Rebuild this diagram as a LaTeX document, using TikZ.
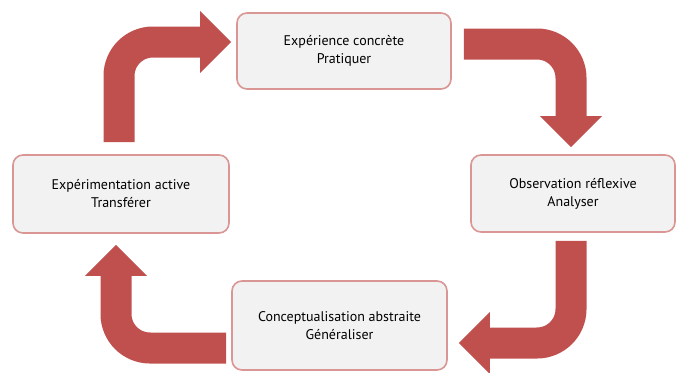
\documentclass[tikz,border=0pt]{standalone}
\usepackage{fontspec}
\setmainfont{PT Sans}
\usetikzlibrary{arrows.meta}
\definecolor{boxfill}{HTML}{F2F2F2}
\definecolor{boxline}{HTML}{D99694}
\definecolor{arrowred}{HTML}{C0504D}
\begin{document}
\begin{tikzpicture}[x=1pt,y=-1pt,
		etape/.style={draw=boxline,fill=boxfill,line width=1.6pt,rounded corners=10pt,align=center,inner sep=0pt,font=\fontsize{14}{18}\selectfont},
		fleche/.style={draw=arrowred,line width=31pt,rounded corners=34pt,-{Triangle[width=62pt,length=31pt,line width=0pt,fill=arrowred]}}]
			\useasboundingbox (0,0) rectangle (676,372);
			\node[etape,minimum width=214pt,minimum height=76pt] (EC) at (344,51) {Expérience concrète\\Pratiquer};
			\node[etape,minimum width=204pt,minimum height=77pt] (OR) at (573,193.5) {Observation réflexive\\Analyser};
			\node[etape,minimum width=215pt,minimum height=89pt] (CA) at (339.5,325.5) {Conceptualisation abstraite\\Généraliser};
			\node[etape,minimum width=216pt,minimum height=78pt] (EA) at (121,194) {Expérimentation active\\Transférer};
			
			\draw[fleche] ([xshift=-2pt,yshift=12pt]EA.north) |- ([xshift=-5pt,yshift=9pt]EC.west);
			\draw[fleche] ([xshift=12pt,yshift=7pt]EC.east) -| ([xshift=-2pt,yshift=7pt]OR.north);
			\draw[fleche] ([xshift=-2pt,yshift=-8pt]OR.south) |- ([xshift=11pt,yshift=-17.5pt]CA.east);
			\draw[fleche] ([xshift=-5pt,yshift=-22.5pt]CA.west) -| ([xshift=-5pt,yshift=-11pt]EA.south);
\end{tikzpicture}
\end{document}
